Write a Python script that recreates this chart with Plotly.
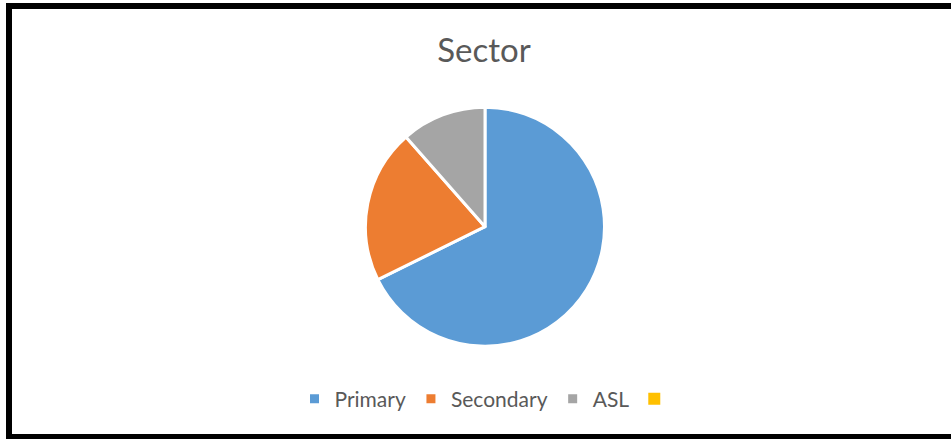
import plotly.graph_objects as go

categories = ["Primary", "Secondary", "ASL", " "]
values = [67.7, 20.8, 11.5, 0]
colors = ["#5B9BD5", "#ED7D31", "#A5A5A5", "#FFC000"]

W, H = 951, 439

fig = go.Figure(go.Pie(
    labels=categories,
    values=values,
    sort=False,
    direction="clockwise",
    rotation=0,
    textinfo="none",
    hoverinfo="label+value",
    marker=dict(colors=colors, line=dict(color="white", width=[3, 3, 3, 0])),
    domain=dict(x=[365.5 / W, 604.5 / W], y=[92.8 / H, 331.8 / H]),
))

fig.update_layout(
    width=W, height=H,
    margin=dict(l=0, r=0, t=0, b=0),
    paper_bgcolor="white",
    plot_bgcolor="white",
    font=dict(family="Lato", color="#595959"),
    title=dict(text="Sector", x=484 / W, xanchor="center", y=1 - 50 / H, yanchor="middle",
               font=dict(family="Lato", size=33, color="#595959")),
    showlegend=True,
    legend=dict(orientation="h", x=490 / W, xanchor="center", y=1 - 399 / H, yanchor="middle",
                font=dict(family="Lato", size=21, color="#595959"), itemwidth=30,
                traceorder="normal"),
    shapes=[dict(type="rect", xref="paper", yref="paper",
                 x0=9 / W, x1=1.05, y0=1 - 437 / H, y1=1 - 6 / H,
                 line=dict(color="black", width=6), fillcolor="rgba(0,0,0,0)")],
)

fig.write_html("out.html")
